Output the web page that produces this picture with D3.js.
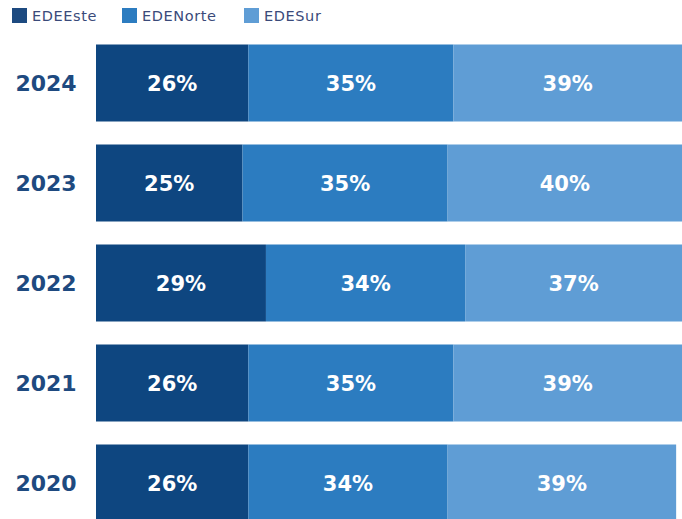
<!DOCTYPE html>
<html>
<head>
<meta charset="utf-8">
<script src="https://cdn.jsdelivr.net/npm/d3@7"></script>
<style>
  body { margin: 0; background: #fff; }
  svg { display: block; }
</style>
</head>
<body>
<div id="chart"></div>
<script>
// data
var years = ["2024", "2023", "2022", "2021", "2020"];
var companies = ["EDEEste", "EDENorte", "EDESur"];
var edeEste = [26, 25, 29, 26, 26];
var edeNorte = [35, 35, 34, 35, 34];
var edeSur = [39, 40, 37, 39, 39];

var colors = ["#0e4680", "#2c7cc0", "#5f9dd5"];
var legendColors = ["#1d4a80", "#2c7cc0", "#5f9dd5"];

var width = 682, height = 519;

var svg = d3.select("#chart")
    .append("svg")
    .attr("width", width)
    .attr("height", height);

// scales
var x = d3.scaleLinear()
    .domain([0, 100])
    .range([96, 682]);

var y = d3.scaleBand()
    .domain(years)
    .range([33, 533])
    .paddingInner(0.23)
    .paddingOuter(0.115);

// stack the series
var rows = years.map(function (yr, i) {
    return { year: yr, EDEEste: edeEste[i], EDENorte: edeNorte[i], EDESur: edeSur[i] };
});
var series = d3.stack().keys(companies)(rows);

// bars
var groups = svg.selectAll("g.series")
    .data(series)
    .enter()
    .append("g")
    .attr("class", "series")
    .attr("fill", function (d, i) { return colors[i]; });

groups.selectAll("rect")
    .data(function (d) { return d; })
    .enter()
    .append("rect")
    .attr("x", function (d) { return x(d[0]); })
    .attr("y", function (d) { return y(d.data.year); })
    .attr("width", function (d) { return x(d[1]) - x(d[0]); })
    .attr("height", y.bandwidth());

// value labels
groups.selectAll("text")
    .data(function (d) { return d; })
    .enter()
    .append("text")
    .attr("x", function (d) { return (x(d[0]) + x(d[1])) / 2; })
    .attr("y", function (d) { return y(d.data.year) + y.bandwidth() / 2; })
    .attr("dy", "0.36em")
    .attr("text-anchor", "middle")
    .attr("fill", "#fff")
    .attr("font-family", "DejaVu Sans, sans-serif")
    .attr("font-weight", "bold")
    .style("font-size", "21px")
    .text(function (d) { return (d[1] - d[0]) + "%"; });

// year labels
svg.selectAll("text.year")
    .data(years)
    .enter()
    .append("text")
    .attr("class", "year")
    .attr("x", 46)
    .attr("y", function (d) { return y(d) + y.bandwidth() / 2; })
    .attr("dy", "0.36em")
    .attr("text-anchor", "middle")
    .attr("fill", "#1e4a80")
    .attr("font-family", "DejaVu Sans, sans-serif")
    .attr("font-weight", "bold")
    .style("font-size", "22px")
    .text(function (d) { return d; });

// legend
var legendX = [12, 122, 244];
var legend = svg.selectAll("g.legend")
    .data(companies)
    .enter()
    .append("g")
    .attr("class", "legend")
    .attr("transform", function (d, i) { return "translate(" + legendX[i] + ",8)"; });

legend.append("rect")
    .attr("width", 15)
    .attr("height", 15)
    .attr("fill", function (d, i) { return legendColors[i]; });

legend.append("text")
    .attr("x", 20)
    .attr("y", 7.5)
    .attr("dy", "0.36em")
    .attr("fill", "#3a4a7a")
    .attr("font-family", "DejaVu Sans, sans-serif")
    .style("font-size", "14.5px")
    .style("letter-spacing", "0.6px")
    .text(function (d) { return d; });
</script>
</body>
</html>
